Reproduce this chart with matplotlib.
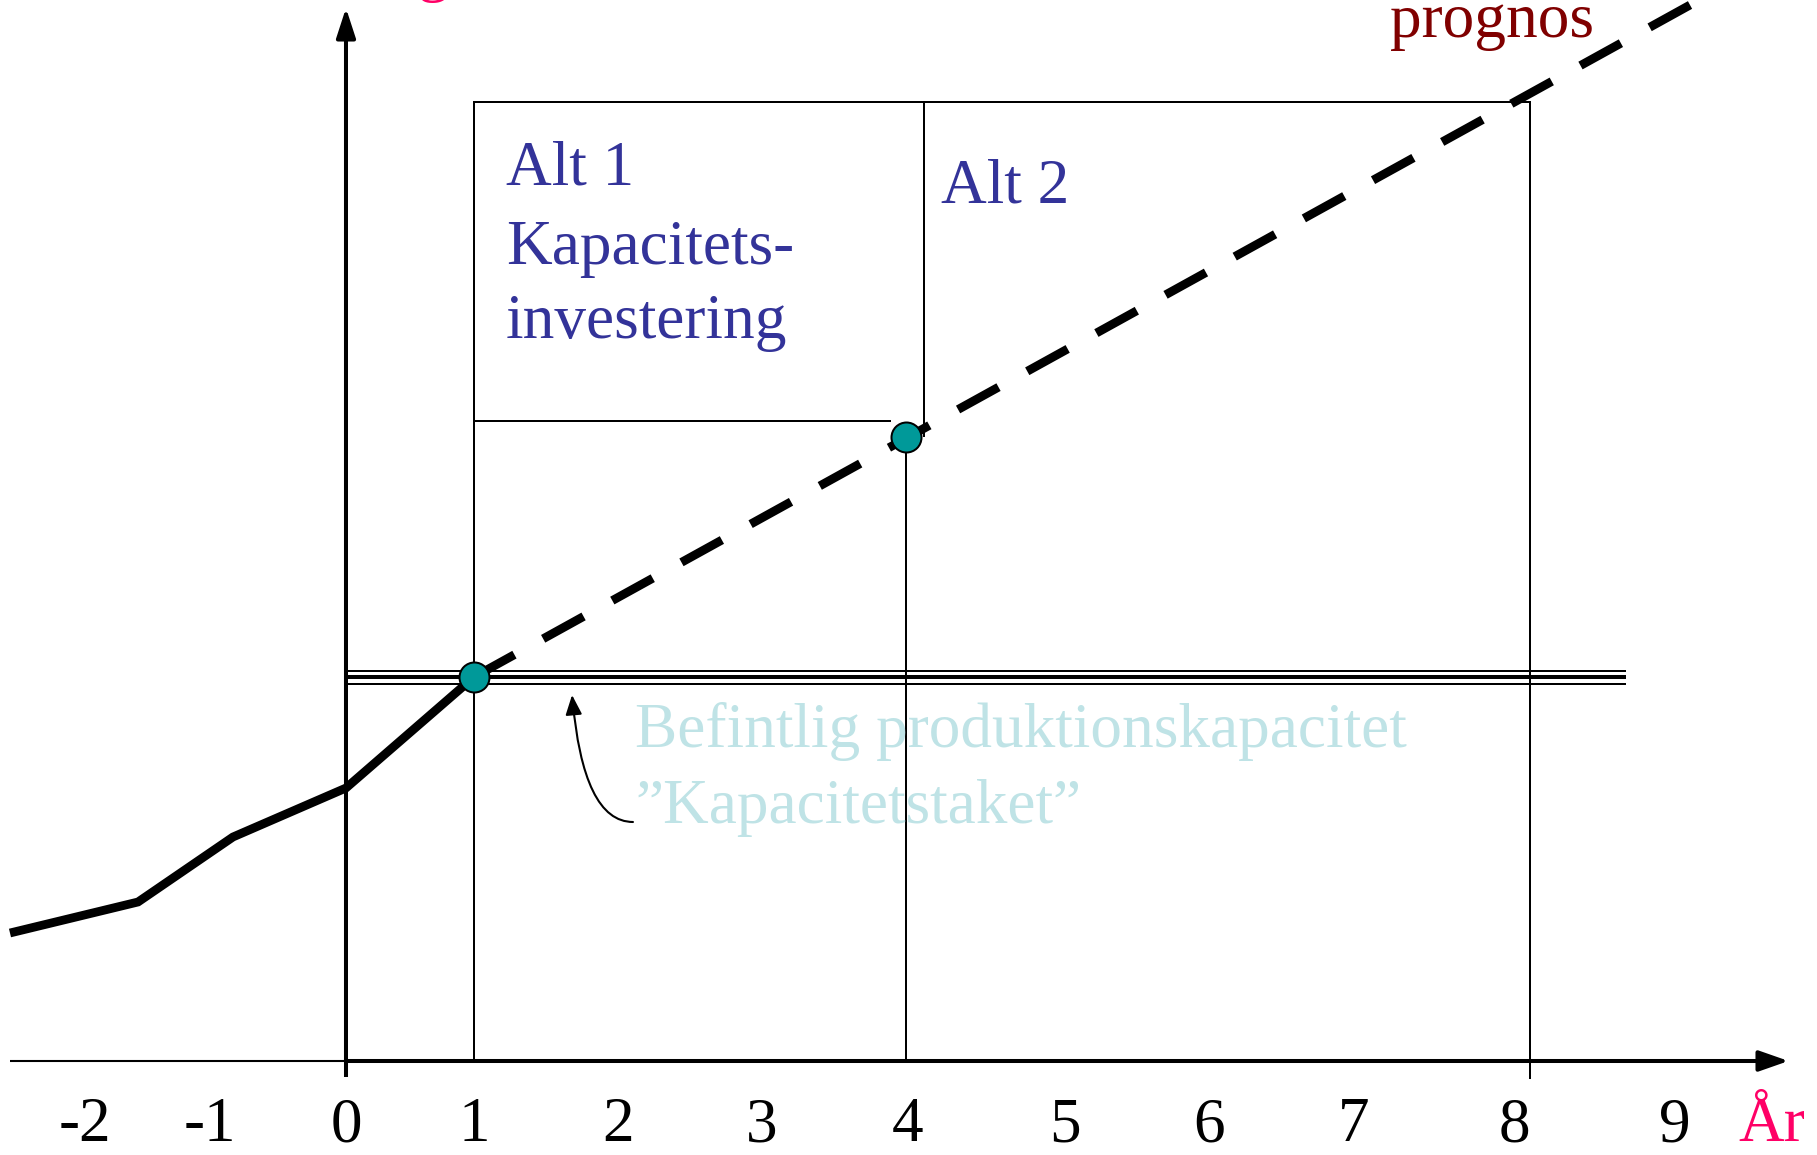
import matplotlib
matplotlib.use('Agg')
import matplotlib.pyplot as plt

# ---- data (x: position along the year axis, y: volume units) ----
hist_x = [-2.625, -1.625, -0.883, 0.0, 1.0]
hist_y = [1.28, 1.59, 2.24, 2.73, 3.84]
prog_x = [1.0, 10.5]
prog_y = [3.84, 10.56]
invest_x = [1.0, 4.373]
invest_y = [3.84, 6.237]
capacity_levels = [3.905, 3.84, 3.775]
capacity_widths = [1.44, 2.9, 1.44]
capacity_xrange = [0.0, 10.0]
tick_pos = [-2.042, -1.065, 0.0, 1.0, 2.125, 3.25, 4.39, 5.62, 6.74, 7.87, 9.13, 10.38]
tick_labels = ['-2', '-1', '0', '1', '2', '3', '4', '5', '6', '7', '8', '9']
alt1_x = 1.0
alt2_x = 4.513
horizon_x = 9.25
box_top = 9.59
alt1_bottom = 6.404
alt1_bottom_end = 4.25
alt2_bottom = 6.25

SERIF = ['Liberation Serif', 'DejaVu Serif']
FS = 45.5
BLUE = '#333399'
TEAL = '#009999'
LIGHT = '#bfe3e6'
PINK = '#ff0066'
DARKRED = '#800000'

fig = plt.figure(figsize=(18.17, 11.55), dpi=100)
ax = fig.add_axes([0, 0, 1, 1])
ax.set_xlim(-2.703, 11.492)
ax.set_ylim(-0.94, 10.61)
ax.set_axis_off()

# axes
ax.plot([-2.625, 0], [0, 0], color='black', lw=1.5, solid_capstyle='butt')
ax.annotate('', xy=(11.27, 0), xytext=(0, 0),
            arrowprops=dict(arrowstyle='-|>,head_length=0.4,head_width=0.14',
                            lw=2.9, color='black', mutation_scale=45,
                            shrinkA=0, shrinkB=0))
ax.plot([0, 0], [-0.16, 0], color='black', lw=2.9, solid_capstyle='butt')
ax.annotate('', xy=(0, 10.53), xytext=(0, 0),
            arrowprops=dict(arrowstyle='-|>,head_length=0.4,head_width=0.13',
                            lw=2.9, color='black', mutation_scale=45,
                            shrinkA=0, shrinkB=0))

# box lines / verticals
lw_thin = 1.44
ax.plot([alt1_x, alt1_x], [0, box_top], color='black', lw=lw_thin)
ax.plot([horizon_x, horizon_x], [-0.17, box_top], color='black', lw=lw_thin)
ax.plot([alt1_x, horizon_x], [box_top, box_top], color='black', lw=lw_thin)
ax.plot([alt1_x, alt1_bottom_end], [alt1_bottom, alt1_bottom], color='black', lw=lw_thin)
ax.plot([alt2_x, alt2_x], [alt2_bottom, box_top], color='black', lw=lw_thin)
ax.plot([invest_x[1], invest_x[1]], [0, invest_y[1]], color='black', lw=lw_thin)

# capacity ceiling (triple line)
for lvl, w in zip(capacity_levels, capacity_widths):
    ax.plot(capacity_xrange, [lvl, lvl], color='black', lw=w, solid_capstyle='butt')

# history and forecast
ax.plot(hist_x, hist_y, color='black', lw=6.3, solid_capstyle='butt', solid_joinstyle='miter')
ax.plot(prog_x, prog_y, color='black', lw=6.3, dashes=(5.28, 3.75),
        dash_capstyle='butt')

# investment points
ax.plot(invest_x, invest_y, linestyle='none', marker='o', ms=21.6,
        mfc=TEAL, mec='black', mew=1.44, zorder=5)

# texts
ax.text(1.25, 8.76, 'Alt 1', color=BLUE, fontsize=FS, family=SERIF, va='baseline')
ax.text(1.25, 7.97, 'Kapacitets-', color=BLUE, fontsize=FS, family=SERIF, va='baseline')
ax.text(1.25, 7.23, 'investering', color=BLUE, fontsize=FS, family=SERIF, va='baseline')
ax.text(4.65, 8.58, 'Alt 2', color=BLUE, fontsize=FS, family=SERIF, va='baseline')
ax.text(8.156, 10.24, 'prognos', color=DARKRED, fontsize=FS, family=SERIF, va='baseline')
ax.text(0.15, 10.72, 'Efterfrågan', color=PINK, fontsize=FS, family=SERIF,
        va='baseline', ha='center')
ax.text(2.258, 3.14, 'Befintlig produktionskapacitet', color=LIGHT, fontsize=FS,
        family=SERIF, va='baseline')
ax.text(2.258, 2.38, '\u201dKapacitetstaket\u201d', color=LIGHT, fontsize=FS,
        family=SERIF, va='baseline')

ax.annotate('', xy=(1.766, 3.66), xytext=(2.242, 2.39),
            arrowprops=dict(arrowstyle='-|>,head_length=0.6,head_width=0.25',
                            connectionstyle='angle3,angleA=0,angleB=95',
                            lw=1.5, color='black', mutation_scale=20,
                            shrinkA=0, shrinkB=0))

for p, lab in zip(tick_pos, tick_labels):
    ax.text(p, -0.80, lab, color='black', fontsize=FS, family=SERIF,
            va='baseline', ha='center')
ax.text(10.875, -0.80, 'År', color=PINK, fontsize=FS, family=SERIF, va='baseline')

fig.savefig('out.png', dpi=100)
